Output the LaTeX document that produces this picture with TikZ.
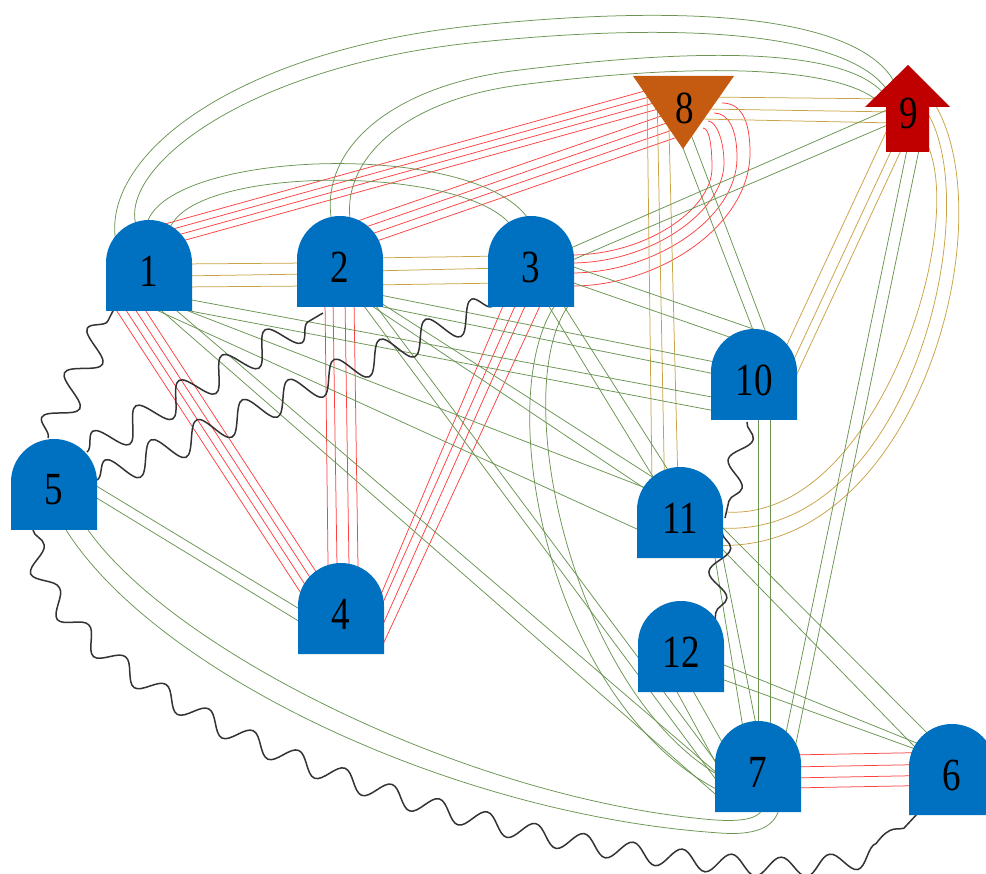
\documentclass[tikz,border=0pt]{standalone}
\usepackage{fontspec}
\setmainfont{Liberation Serif}
\usepackage{graphicx}
\usetikzlibrary{calc,decorations.pathmorphing}
\definecolor{qblue}{HTML}{0070C0}
\definecolor{qorange}{HTML}{C55A11}
\definecolor{qred}{HTML}{C00000}
\definecolor{redc}{HTML}{FF4040}
\definecolor{goldc}{HTML}{C9A245}
\definecolor{greenc}{HTML}{6A9450}
\definecolor{wavec}{HTML}{333333}
\pgfdeclarelayer{bg}
\pgfdeclarelayer{edges}
\pgfsetlayers{bg,edges,main}
\tikzset{
  qlab/.style={inner sep=0pt, text=black, font=\fontsize{39}{39}\selectfont},
  redl/.style={draw=redc, line width=0.75pt},
  goldl/.style={draw=goldc, line width=0.75pt},
  greenl/.style={draw=greenc, line width=0.75pt},
  wavy/.style={draw=wavec, line width=1.5pt, decorate,
    decoration={snake, amplitude=#1, segment length=50pt}},
  wavy/.default=15pt
}
% qubit: dome-topped block, label node centred at (#2,#3)
\newcommand\qbit[4]{%
  \fill[qblue] (#2-43,#3+40) -- (#2-43,#3-8)
    arc[start angle=180, delta angle=-180, radius=43pt] -- (#2+43,#3+40) -- cycle;
  \node[qlab] (#1) at (#2,#3) {\scalebox{0.95}[1.18]{#4}};
}
% straight couplers between two nodes: list of dxA/dyA/dxB/dyB offsets
\newcommand\qlines[4]{%
  \foreach \ax/\ay/\bx/\by in {#4}{%
    \draw[#1] ($(#2)+(\ax,\ay)$) -- ($(#3)+(\bx,\by)$);}%
}
\begin{document}
\begin{tikzpicture}[x=1pt,y=-1pt]
\useasboundingbox (0,0) rectangle (986,874);
\begin{pgfonlayer}{bg}
  \fill[white] (0,0) rectangle (986,874);
\end{pgfonlayer}

% nodes
\qbit{n1}{149}{271}{1}
\qbit{n2}{340}{267}{2}
\qbit{n3}{531}{267}{3}
\qbit{n4}{341}{614}{4}
\qbit{n5}{54}{490}{5}
\qbit{n6}{952}{775}{6}
\qbit{n7}{758}{772}{7}
\qbit{n10}{754}{380}{10}
\qbit{n11}{680}{518}{11}
\qbit{n12}{681}{652}{12}
\fill[qorange] (633,76) -- (734,76) -- (683,149) -- cycle;
\node[qlab] (n8) at (685,108) {\scalebox{0.95}[1.18]{8}};
\fill[qred] (908,65) -- (950,107) -- (929,107) -- (929,152) -- (886,152)
  -- (886,107) -- (865,107) -- cycle;
\node[qlab] (n9) at (909,113) {\scalebox{0.95}[1.18]{9}};

\begin{pgfonlayer}{edges}
% ---- red couplers
\qlines{redl}{n1}{n8}{12.7/-46.1/-18.3/-23.1, 14.6/-39.4/-16.4/-16.4, 16.4/-32.6/-14.6/-9.6, 18.3/-25.9/-12.7/-2.9}
\qlines{redl}{n2}{n8}{14.7/-45/-8.6/2.8, 17.4/-37.1/-5.9/10.7, 20.2/-29.1/-3.1/18.7, 22.9/-21.2/-0.4/26.6}
\qlines{redl}{n1}{n4}{-35.4/35/-40/-20.8, -28.6/30.6/-33.2/-25.2, -21.8/26.2/-26.4/-29.6, -15/21.8/-19.6/-34}
\qlines{redl}{n2}{n4}{-15/33/-12.8/-34, -7/33/-3.8/-34, 5/33/8.2/-34, 14/33/17.2/-34}
\qlines{redl}{n3}{n4}{-23.8/29/31/1.7, -11.5/29/31/13.2, -1.5/29/31/35, 13.6/29/39/36.8}
\qlines{redl}{n7}{n6}{32/-17/-27/-22.5, 32/-5/-27/-10.5, 32/6/-27/0.5, 32/16/-27/10.5}
\draw[redl] ($(n3)+(41,19)$) .. controls +(88,0) and +(0,72) .. (750,153)
  .. controls +(0,-35) and +(18,0) .. ($(n8)+(37,-5)$);
\draw[redl] ($(n3)+(40,6)$) .. controls +(84,0) and +(0,60) .. (737,158)
  .. controls +(0,-30) and +(14,0) .. ($(n8)+(29,5)$);
\draw[redl] ($(n3)+(40,-4)$) .. controls +(79,0) and +(0,49) .. (724,163)
  .. controls +(0,-23) and +(8,0) .. ($(n8)+(23,13)$);
\draw[redl] ($(n3)+(40,-12)$) .. controls +(74,0) and +(0,42) .. (712,168)
  .. controls +(0,-18) and +(7,0) .. ($(n8)+(18,20)$);

% ---- gold couplers
\qlines{goldl}{n1}{n2}{31/-7/-30/-4, 31/5/-30/7, 31/16/-30/19}
\qlines{goldl}{n2}{n3}{30/-9/-26/-11, 30/4/-26/1, 30/18/-26/16}
\qlines{goldl}{n8}{n9}{20/-11/-14/-14, 20/1/-14/-1, 15/11/-14/10}
\qlines{goldl}{n8}{n11}{-38/-18/-28/-33, -28/-18/-15.5/-33, -17/-18/-2/-33}
\qlines{goldl}{n10}{n9}{29.7/-28.4/-16.8/5.9, 34.7/-9.4/-11.8/24.9, 36.8/7/-6.8/34.9}
\draw[goldl] ($(n9)+(6,-33)$) .. controls +(105,90) and +(218,15) .. ($(n11)+(32,27)$);
\draw[goldl] ($(n9)+(13,-8)$) .. controls +(68,85) and +(195,12) .. ($(n11)+(40,10)$);
\draw[goldl] ($(n9)+(13,22)$) .. controls +(53,75) and +(154,10) .. ($(n11)+(46,-6)$);

% ---- green couplers
\draw[greenl] ($(n1)+(-32,-24)$) .. controls (95,160) and (230,50) .. (480,25)
  .. controls (780,-5) and (880,40) .. ($(n9)+(-11,-23)$);
\draw[greenl] ($(n1)+(-12,-43)$) .. controls (115,170) and (245,65) .. (480,42)
  .. controls (770,13) and (870,55) .. ($(n9)+(-19,-18)$);
\draw[greenl] ($(n2)+(-8,-44)$) .. controls (318,150) and (390,85) .. (520,70)
  .. controls (720,45) and (860,50) .. ($(n9)+(-20,-12)$);
\draw[greenl] ($(n2)+(10,-48)$) .. controls (343,158) and (405,100) .. (520,85)
  .. controls (715,60) and (850,68) .. ($(n9)+(-26,-7)$);
\draw[greenl] ($(n1)+(-2,-48)$) .. controls (170,150) and (470,140) .. ($(n3)+(-4,-50)$);
\draw[greenl] ($(n1)+(21,-43)$) .. controls (195,165) and (460,165) .. ($(n3)+(-21,-43)$);
\qlines{greenl}{n3}{n9}{33.2/-16.1/-18/-4.8, 32.2/-3.1/-15/9.2}
\qlines{greenl}{n8}{n10}{-5.6/30.7/4.4/-36, 4.5/22.6/16.3/-36}
\qlines{greenl}{n9}{n7}{-1/32/26.5/-32, 11/32/34.5/-12}
\qlines{greenl}{n10}{n7}{4/30/0/-32, 16/30/12/-32}
\draw[greenl] ($(n5)+(9,35)$) .. controls (150,670) and (450,815) .. (720,833)
  .. controls (760,836) and (780,825) .. ($(n7)+(22,28)$);
\draw[greenl] ($(n5)+(32,37)$) .. controls (170,650) and (470,800) .. (715,820)
  .. controls (745,822) and (762,818) .. ($(n7)+(6,33)$);
\qlines{greenl}{n5}{n4}{31.2/-10.8/-26/4.4, 33.2/2.2/-27/16.4}
\qlines{greenl}{n12}{n6}{31.9/8.5/-29.1/-29.4, 31.7/23.9/-19.9/-19.9}
\qlines{greenl}{n11}{n6}{42.4/9.4/-19.4/-36.4, 38/26.8/-33.5/-24.3}
\qlines{greenl}{n11}{n7}{33.7/32/-13/-32, 41.4/32/1/-32}
\qlines{greenl}{n12}{n7}{-9.4/30/-34/6, 7/30/-23/-7}
\draw[greenl] ($(n3)+(27,34)$) .. controls (490,390) and (545,700) .. ($(n7)+(-40,18)$);
\draw[greenl] ($(n3)+(41,34)$) .. controls (505,380) and (570,690) .. ($(n7)+(-38,4)$);
\qlines{greenl}{n1}{n10}{31/26.8/-24/20.4, 36/39/-29/32.8}
\qlines{greenl}{n2}{n10}{32/26.4/-26/-15.4, 38/39/-29/-4}
\qlines{greenl}{n3}{n10}{34/-3/11/-47, 34/13/-19/-41}
\qlines{greenl}{n1}{n11}{16/31/-25/-26.4, 3/37/-30/17}
\qlines{greenl}{n1}{n7}{21/34/-33/8, 6/34/-36/28}
\qlines{greenl}{n2}{n11}{20/31/-30/-26, 30/29/-23/-38}
\qlines{greenl}{n3}{n11}{29/33/-10/-45, 14/33/-25/-38}
\qlines{greenl}{n2}{n7}{18/31/-38/13, 30/31/-36/-2}

% ---- wavy couplers
\draw[wavy] ($(n5)+(-6,-52)$) -- ($(n1)+(-34,36)$);
\draw[wavy] ($(n5)+(33,-38)$) -- ($(n2)+(-17,46)$);
\draw[wavy] ($(n5)+(43,-10)$) -- ($(n3)+(-31,36)$);
\draw[wavy=10pt] ($(n5)+(-21,40)$) .. controls (45,690) and (470,840) .. (770,854)
  .. controls (840,856) and (900,840) .. ($(n6)+(-34,38)$);
\draw[wavy=10pt] ($(n10)+(-7,42)$) -- ($(n11)+(45,0)$);
\draw[wavy=10pt] ($(n11)+(42,14)$) -- ($(n12)+(34,-30)$);
\end{pgfonlayer}
\end{tikzpicture}
\end{document}
